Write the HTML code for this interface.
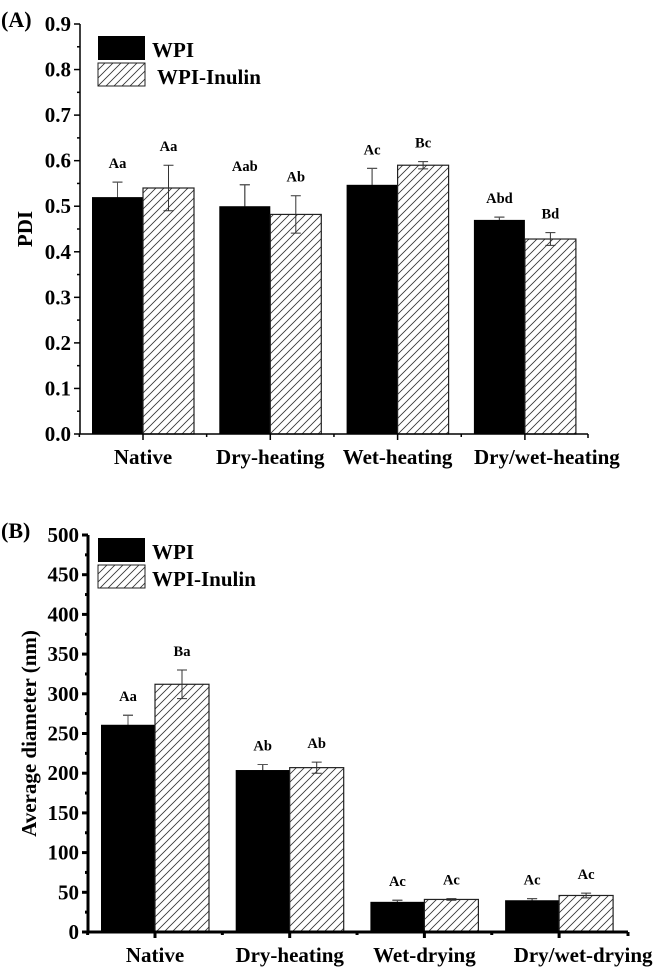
<!DOCTYPE html>
<html><head><meta charset="utf-8"><style>
body{margin:0;background:#fff}
svg text{font-family:"Liberation Serif",serif;font-weight:bold;fill:#000}
</style></head><body>
<svg id="s" width="657" height="974" viewBox="0 0 657 974">
<defs>
<pattern id="hatch" patternUnits="userSpaceOnUse" width="8" height="8">
<rect width="8" height="8" fill="#fff"/>
<path d="M-2,10 L10,-2 M-2,2 L2,-2 M6,10 L10,6" stroke="#333" stroke-width="0.8"/>
</pattern>
</defs>
</svg>
<script>
const catsA=["Native","Dry-heating","Wet-heating","Dry/wet-heating"];
const wpiA=[0.52,0.50,0.547,0.47];
const wpiErrA=[0.033,0.047,0.036,0.006];
const inuA=[0.54,0.482,0.59,0.428];
const inuErrA=[0.05,0.041,0.008,0.014];
const wpiLblA=["Aa","Aab","Ac","Abd"];
const inuLblA=["Aa","Ab","Bc","Bd"];
const ticksA=[0,0.1,0.2,0.3,0.4,0.5,0.6,0.7,0.8,0.9];
const catsB=["Native","Dry-heating","Wet-drying","Dry/wet-drying"];
const wpiB=[261,204,38,40];
const wpiErrB=[12,7,2,2];
const inuB=[312,207,41,46];
const inuErrB=[18,7,1,3];
const wpiLblB=["Aa","Ab","Ac","Ac"];
const inuLblB=["Ba","Ab","Ac","Ac"];
const ticksB=[0,50,100,150,200,250,300,350,400,450,500];

const S=document.getElementById('s');
const NS="http://www.w3.org/2000/svg";
function mk(t,a,txt){const e=document.createElementNS(NS,t);for(const k in a)e.setAttribute(k,a[k]);if(txt!==undefined)e.textContent=txt;S.appendChild(e);return e;}

function panel(o){
  const y=v=>o.y0-(v-o.vmin)/(o.vmax-o.vmin)*(o.y0-o.y1);
  const cx=i=>o.c0+i*o.step;
  o.cats.forEach((c,i)=>{
    const b1=mk('rect',{x:cx(i)-o.bw,y:y(o.w[i]),width:o.bw,height:o.y0-y(o.w[i]),fill:'#000'});
    
    
    const b2=mk('rect',{x:cx(i),y:y(o.n[i]),width:o.bw,height:o.y0-y(o.n[i]),fill:'url(#hatch)',stroke:'#222','stroke-width':1.2});
    
    
    [[cx(i)-o.bw/2,o.w[i],o.we[i],o.wl[i]],[cx(i)+o.bw/2,o.n[i],o.ne[i],o.nl[i]]].forEach(([x,v,e,l],k)=>{
      const eb=mk('path',{d:`M${x},${y(v-e)}V${y(v+e)}M${x-5},${y(v+e)}H${x+5}M${x-5},${y(v-e)}H${x+5}`,stroke:k?'#333':'#000','stroke-width':1,fill:'none'});
      if(!k){mk('path',{d:`M${x},${y(v)}V${y(v+e)}M${x-5},${y(v+e)}H${x+5}`,stroke:'#555','stroke-width':1,fill:'none'});}
      
      
      const t=mk('text',{x:x,y:y(v+e)-14,'text-anchor':'middle','font-size':14.5},l);
      
      
    });
    const sh=i===o.cats.length-1?o.lastShift:0;
    const ct=mk('text',{x:cx(i)+sh,y:o.y0+30,'text-anchor':'middle','font-size':21},c);
    
    
    mk('line',{x1:cx(i),x2:cx(i),y1:o.y0,y2:o.y0+6,stroke:'#000','stroke-width':o.aw});
    mk('line',{x1:cx(i)-o.step/2,x2:cx(i)-o.step/2,y1:o.y0,y2:o.y0+3,stroke:'#000','stroke-width':o.aw});
  });
  const ax=mk('path',{d:`M${o.x0},${o.y1}V${o.y0}H${o.x1}`,stroke:'#000','stroke-width':o.aw,fill:'none'});
  
  
  mk('line',{x1:o.x1,x2:o.x1,y1:o.y0,y2:o.y0+4,stroke:'#000','stroke-width':o.aw});
  o.ticks.forEach((t,i)=>{
    mk('line',{x1:o.x0-6,x2:o.x0,y1:y(t),y2:y(t),stroke:'#000','stroke-width':o.aw});
    if(i<o.ticks.length-1){const m=(t+o.ticks[i+1])/2;mk('line',{x1:o.x0-3,x2:o.x0,y1:y(m),y2:y(m),stroke:'#000','stroke-width':o.aw});}
    const tl=mk('text',{x:o.x0-9,y:y(t)+7,'text-anchor':'end','font-size':21},o.fmt(t));
    
    
  });
  const yt=mk('text',{x:0,y:0,'text-anchor':'middle','font-size':21,transform:`translate(${o.ytx},${(o.y0+o.y1)/2}) rotate(-90)`},o.ytitle);
  
  
  const pl=mk('text',{x:1,y:o.y1+3,'font-size':22},o.label);
  
  
  const l1=mk('rect',{x:98,y:o.ly,width:47,height:24,fill:'#000'});
  
  
  const l2=mk('rect',{x:98,y:o.ly+27,width:47,height:23,fill:'url(#hatch)',stroke:'#222','stroke-width':1});
  
  
  const t1=mk('text',{x:152,y:o.ly+21,'font-size':21},'WPI');
  
  
  const t2=mk('text',{x:o.l2x,y:o.ly+48,'font-size':21},'WPI-Inulin');
  
  
}
panel({cats:catsA,w:wpiA,we:wpiErrA,n:inuA,ne:inuErrA,wl:wpiLblA,nl:inuLblA,ticks:ticksA,
  vmin:0,vmax:0.9,y0:434,y1:24,x0:80,x1:588,c0:143,step:127.3,bw:51,aw:1.5,lastShift:22,
  fmt:t=>t.toFixed(1),ytitle:'PDI',ytx:32,label:'(A)',ly:36,l2x:157});
panel({cats:catsB,w:wpiB,we:wpiErrB,n:inuB,ne:inuErrB,wl:wpiLblB,nl:inuLblB,ticks:ticksB,
  vmin:0,vmax:500,y0:932,y1:535,x0:88,x1:628,c0:155,step:134.7,bw:54,aw:3,lastShift:24,
  fmt:t=>String(t),ytitle:'Average diameter (nm)',ytx:36,label:'(B)',ly:538,l2x:152});
</script>
</body></html>
